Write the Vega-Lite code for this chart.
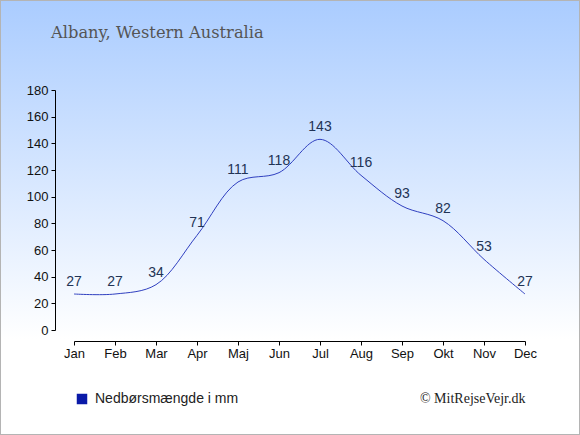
{
  "$schema": "https://vega.github.io/schema/vega-lite/v6.json",
  "autosize": "none",
  "padding": 0,
  "width": 580,
  "height": 435,
  "title": {
    "text": "Albany, Western Australia",
    "anchor": "start",
    "frame": "group",
    "orient": "top",
    "offset": 0,
    "dx": 51,
    "dy": 41,
    "font": "DejaVu Serif",
    "fontSize": 16.3,
    "fontWeight": "normal",
    "color": "#555555"
  },
  "config": {
    "view": {
      "fill": {
        "gradient": "linear",
        "x1": 0, "y1": 0, "x2": 0, "y2": 1,
        "stops": [
          {"offset": 0, "color": "#aaccff"},
          {"offset": 0.78, "color": "#ffffff"},
          {"offset": 1, "color": "#ffffff"}
        ]
      },
      "stroke": "#b4b4b4",
      "strokeWidth": 2
    },
    "axis": {
      "labelFont": "Liberation Sans",
      "labelFontSize": 13,
      "labelColor": "#111111",
      "domainColor": "#000000",
      "tickColor": "#000000",
      "grid": false
    }
  },
  "data": {
    "values": [
      {"month": "Jan", "mm": 27, "series": "Nedbørsmængde i mm"},
      {"month": "Feb", "mm": 27, "series": "Nedbørsmængde i mm"},
      {"month": "Mar", "mm": 34, "series": "Nedbørsmængde i mm"},
      {"month": "Apr", "mm": 71, "series": "Nedbørsmængde i mm"},
      {"month": "Maj", "mm": 111, "series": "Nedbørsmængde i mm"},
      {"month": "Jun", "mm": 118, "series": "Nedbørsmængde i mm"},
      {"month": "Jul", "mm": 143, "series": "Nedbørsmængde i mm"},
      {"month": "Aug", "mm": 116, "series": "Nedbørsmængde i mm"},
      {"month": "Sep", "mm": 93, "series": "Nedbørsmængde i mm"},
      {"month": "Okt", "mm": 82, "series": "Nedbørsmængde i mm"},
      {"month": "Nov", "mm": 53, "series": "Nedbørsmængde i mm"},
      {"month": "Dec", "mm": 27, "series": "Nedbørsmængde i mm"}
    ]
  },
  "encoding": {
    "x": {
      "field": "month",
      "type": "ordinal",
      "sort": null,
      "scale": {"type": "point", "range": [74, 525], "padding": 0},
      "axis": {
        "orient": "bottom",
        "offset": -94,
        "labelAngle": 0,
        "labelPadding": 2,
        "tickSize": 4,
        "title": "© MitRejseVejr.dk",
        "titleAnchor": "end",
        "titleFont": "Liberation Serif",
        "titleFontSize": 14,
        "titleFontWeight": "normal",
        "titleColor": "#222222",
        "titlePadding": 31
      }
    },
    "y": {
      "field": "mm",
      "type": "quantitative",
      "scale": {"domain": [0, 180], "range": [330, 90], "nice": false, "zero": true},
      "axis": {
        "orient": "left",
        "offset": -55,
        "values": [0, 20, 40, 60, 80, 100, 120, 140, 160, 180],
        "tickSize": 4,
        "labelPadding": 3,
        "title": null
      }
    }
  },
  "layer": [
    {
      "mark": {"type": "line", "interpolate": "catmull-rom", "strokeWidth": 1, "clip": false},
      "encoding": {
        "color": {
          "field": "series",
          "type": "nominal",
          "scale": {"range": ["#3040c0"]},
          "legend": {
            "title": null,
            "orient": "none",
            "legendX": 75,
            "legendY": 392,
            "symbolType": "square",
            "symbolSize": 110,
            "symbolFillColor": "#0a1aa8",
            "symbolStrokeWidth": 0,
            "labelFont": "Liberation Sans",
            "labelFontSize": 14,
            "labelColor": "#222222",
            "labelOffset": 6
          }
        }
      }
    },
    {
      "mark": {
        "type": "text",
        "dy": -12,
        "font": "Liberation Sans",
        "fontSize": 14,
        "color": "#223355"
      },
      "encoding": {"text": {"field": "mm", "type": "quantitative"}}
    }
  ]
}
